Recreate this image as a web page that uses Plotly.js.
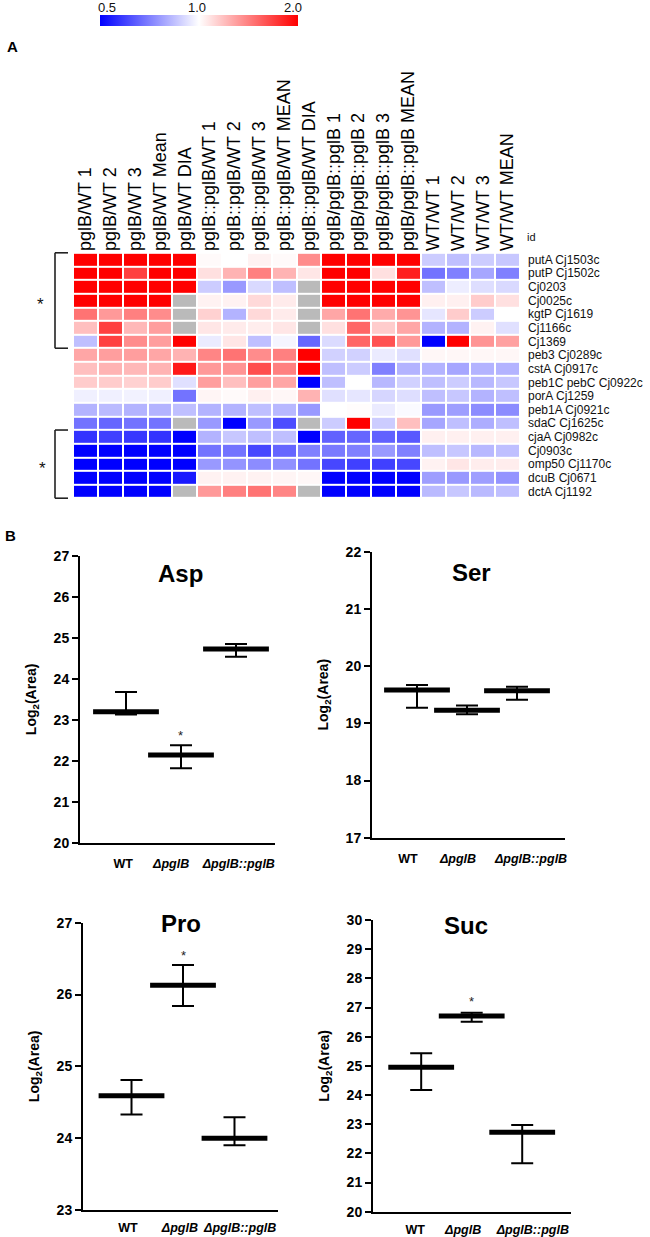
<!DOCTYPE html>
<html>
<head>
<meta charset="utf-8">
<script src="https://cdn.plot.ly/plotly-3.0.1.min.js"></script>
<style>html,body{margin:0;padding:0;background:#fff;}#chart{width:650px;height:1237px;}</style>
</head>
<body>
<div id="chart"></div>
<script>
// ---------- Heatmap data (panel A) ----------
const heatColumns = [
  'pglB/WT 1','pglB/WT 2','pglB/WT 3','pglB/WT Mean','pglB/WT DIA',
  'pglB::pglB/WT 1','pglB::pglB/WT 2','pglB::pglB/WT 3','pglB::pglB/WT MEAN','pglB::pglB/WT DIA',
  'pglB/pglB::pglB 1','pglB/pglB::pglB 2','pglB/pglB::pglB 3','pglB/pglB::pglB MEAN',
  'WT/WT 1','WT/WT 2','WT/WT 3','WT/WT MEAN'
];
const heatRows = [
  'putA Cj1503c','putP Cj1502c','Cj0203','Cj0025c','kgtP Cj1619','Cj1166c','Cj1369',
  'peb3 Cj0289c','cstA Cj0917c','peb1C pebC Cj0922c','porA Cj1259','peb1A Cj0921c','sdaC Cj1625c',
  'cjaA Cj0982c','Cj0903c','omp50 Cj1170c','dcuB Cj0671','dctA Cj1192'
];
// log2 fold change (colour scale 0.5 .. 1.0 .. 2.0 => -1 .. 0 .. 1); null = not detected (grey)
const log2Fold = [
  [1,1,1,1,1, 0.02,0.0,0.05,0.02, 0.45, 1,1,1,1, -0.2,-0.25,-0.2,-0.22],
  [1,1,0.75,1,1, 0.12,0.3,0.5,0.3, 0.1, 1,1,0.12,0.88, -0.55,-0.5,-0.35,-0.5],
  [1,1,1,1,1, -0.2,-0.4,-0.15,-0.25, null, 1,1,1,1, -0.25,-0.07,-0.13,-0.15],
  [1,1,1,1,null, 0.05,0.05,0.15,0.08, null, 1,1,1,1, 0.06,0.06,0.2,0.12],
  [0.55,0.4,0.5,0.45,null, 0.18,-0.3,0.15,0.08, null, 0.35,0.55,0.33,0.42, -0.1,0.2,-0.2,0.0],
  [0.25,0.75,0.28,0.38,null, 0.1,0.08,0.07,0.1, null, 0.12,0.6,0.2,0.35, -0.3,-0.3,0.05,-0.12],
  [-0.25,0.75,0.45,0.38,1, -0.08,0.1,-0.25,-0.04, -0.6, -0.14,0.6,0.68,0.4, -1,1,0.42,0.37],
  [0.35,0.38,0.38,0.35,0.3, 0.48,0.55,0.45,0.5, 1, -0.18,-0.18,-0.08,-0.12, 0.03,0.03,0.03,0.03],
  [0.25,0.3,0.28,0.3,0.9, 0.4,0.42,0.7,0.5, 1, -0.25,-0.2,-0.5,-0.3, -0.3,-0.35,-0.3,-0.3],
  [0.2,0.2,0.18,0.2,-0.12, 0.38,0.25,0.38,0.35, -1, -0.25,0,-0.28,-0.18, -0.25,-0.2,-0.28,-0.22],
  [-0.06,-0.06,-0.05,-0.06,-0.55, 0.04,0.02,0.06,0.03, 0.3, -0.12,-0.1,-0.16,-0.13, -0.25,-0.22,-0.3,-0.25],
  [-0.3,-0.27,-0.3,-0.3,-0.25, -0.3,-0.3,-0.25,-0.28, -0.4, 0,0.01,-0.08,-0.02, -0.4,-0.38,-0.45,-0.45],
  [-0.55,-0.6,-0.55,-0.55,null, -0.4,-1,-0.4,-0.7, null, -0.2,1,-0.2,0.25, -0.35,-0.25,-0.32,-0.25],
  [-0.8,-0.75,-0.78,-0.8,-1, -0.3,-0.22,-0.25,-0.25, -1, -0.62,-0.6,-0.62,-0.65, 0.06,0.06,0.06,0.06],
  [-1,-1,-1,-1,-1, -0.55,-0.55,-0.72,-0.6, -0.5, -0.52,-0.5,-0.4,-0.5, -0.25,-0.22,-0.28,-0.25],
  [-1,-1,-1,-1,-1, -0.4,-0.42,-0.45,-0.43, -0.55, -0.72,-0.75,-0.75,-0.72, 0.05,0.1,0.07,0.07],
  [-1,-1,-1,-1,-0.9, 0.05,0.05,0.05,0.04, 0.03, -1,-1,-1,-1, -0.38,-0.4,-0.38,-0.42],
  [-1,-1,-1,-1,null, 0.4,0.5,0.55,0.48, null, -1,-1,-1,-1, -0.27,-0.22,-0.27,-0.25]
];
const colorTickVals = [-1, 0, 1];
const colorTickText = ['0.5', '1.0', '2.0'];

// ---------- Metabolite data (panel B) ----------
const groups = ['WT', 'ΔpglB', 'ΔpglB::pglB'];
const groupLabels = ['<b>WT</b>', '<b><i>ΔpglB</i></b>', '<b><i>ΔpglB::pglB</i></b>'];
const aspMean = [23.20, 22.14, 24.73], aspHigh = [23.68, 22.38, 24.85], aspLow = [23.13, 21.82, 24.54];
const serMean = [19.58, 19.23, 19.57], serHigh = [19.67, 19.31, 19.64], serLow = [19.27, 19.16, 19.41];
const proMean = [24.59, 26.13, 24.00], proHigh = [24.81, 26.41, 24.29], proLow = [24.33, 25.84, 23.90];
const sucMean = [24.95, 26.71, 22.72], sucHigh = [25.43, 26.82, 22.97], sucLow = [24.17, 26.51, 21.66];

// ---------- Layout helpers ----------
const W = 650, H = 1237;
const FONT = 'Liberation Sans, Arial, Helvetica, sans-serif';
const fx = x => x / W;
const fy = y => 1 - y / H;
const groupIndex = groups.map((g, i) => i);

const missingMask = log2Fold.map(r => r.map(v => v === null ? 1 : null));

const traces = [];
traces.push({
  type: 'heatmap', x: heatColumns, y: heatRows, z: missingMask,
  colorscale: [[0, '#bababa'], [1, '#bababa']], showscale: false,
  xgap: 2, ygap: 2, hoverinfo: 'skip', xaxis: 'x', yaxis: 'y'
});
traces.push({
  type: 'heatmap', x: heatColumns, y: heatRows, z: log2Fold,
  zmin: -1, zmax: 1, zauto: false,
  colorscale: [[0, 'rgb(0,0,255)'], [0.5, 'rgb(255,255,255)'], [1, 'rgb(255,0,0)']],
  xgap: 2, ygap: 2, xaxis: 'x', yaxis: 'y',
  colorbar: {
    orientation: 'h', x: fx(199), xanchor: 'center', y: fy(15), yanchor: 'top',
    len: 198 / W, lenmode: 'fraction', thickness: 11, thicknessmode: 'pixels',
    xpad: 0, ypad: 0, outlinewidth: 0, ticks: '', showticklabels: false,
    tickmode: 'array', tickvals: colorTickVals, ticktext: colorTickText
  }
});

const metabolites = [
  {name: 'Asp', mean: aspMean, hi: aspHigh, lo: aspLow, ax: '2'},
  {name: 'Ser', mean: serMean, hi: serHigh, lo: serLow, ax: '3'},
  {name: 'Pro', mean: proMean, hi: proHigh, lo: proLow, ax: '4'},
  {name: 'Suc', mean: sucMean, hi: sucHigh, lo: sucLow, ax: '5'}
];
metabolites.forEach(m => {
  traces.push({
    type: 'scatter', mode: 'markers', name: m.name,
    x: groupIndex, y: m.mean, text: groups, xaxis: 'x' + m.ax, yaxis: 'y' + m.ax,
    marker: {symbol: 'line-ew', size: 47, color: 'black', line: {width: 5, color: 'black'}},
    error_y: {
      type: 'data', symmetric: false,
      array: m.hi.map((h, i) => h - m.mean[i]),
      arrayminus: m.lo.map((l, i) => m.mean[i] - l),
      color: 'black', thickness: 2, width: 11
    },
    cliponaxis: false
  });
});

function yAxisCfg(dom, range, xa) {
  return {
    domain: dom, anchor: xa, range: range, tick0: range[0], dtick: 1,
    showline: true, linewidth: 2, linecolor: 'black', ticks: 'outside', ticklen: 6, tickwidth: 2, tickcolor: 'black',
    tickfont: {family: FONT, size: 14, color: 'black', weight: 'bold'},
    showgrid: false, zeroline: false, fixedrange: true,
    title: {text: 'Log<sub>2</sub>(Area)', font: {family: FONT, size: 14, color: 'black', weight: 'bold'}, standoff: 14}
  };
}
// label positions (in group units) as placed in the original figure
function xAxisCfg(dom, range, ya, labelPos, standoff) {
  return {
    domain: dom, anchor: ya, type: 'linear', range: range,
    showline: true, linewidth: 2, linecolor: 'black', ticks: '',
    tickmode: 'array', tickvals: labelPos, ticktext: groupLabels, tickangle: 0,
    tickfont: {family: FONT, size: 12.5, color: 'black'},
    ticklabelstandoff: standoff, showgrid: false, zeroline: false, fixedrange: true
  };
}

const layout = {
  width: W, height: H, margin: {l: 0, r: 0, t: 0, b: 0},
  paper_bgcolor: 'white', plot_bgcolor: 'white', showlegend: false,
  font: {family: FONT, color: 'black'},
  xaxis: {
    domain: [fx(73), fx(520)], anchor: 'y', side: 'top', type: 'category',
    tickmode: 'array', tickvals: heatColumns, ticktext: heatColumns,
    tickangle: -90, tickfont: {family: FONT, size: 18, color: 'black'}, ticks: '',
    ticklabelstandoff: 0, showgrid: false, zeroline: false, showline: false, fixedrange: true
  },
  yaxis: {
    domain: [fy(499), fy(252)], anchor: 'x', side: 'right', type: 'category', autorange: 'reversed',
    tickmode: 'array', tickvals: heatRows, ticktext: heatRows,
    tickfont: {family: FONT, size: 12, color: '#111'}, ticks: '', ticklabelstandoff: 7,
    showgrid: false, zeroline: false, showline: false, fixedrange: true
  },
  xaxis2: xAxisCfg([fx(80), fx(275)], [-0.836, 2.709], 'y2', [-0.05, 0.82, 2.05], 8),
  yaxis2: yAxisCfg([fy(842.7), fy(556)], [20, 27], 'x2'),
  xaxis3: xAxisCfg([fx(372), fx(565)], [-0.9, 2.96], 'y3', [-0.18, 0.82, 2.28], 8),
  yaxis3: yAxisCfg([fy(837.7), fy(551.7)], [17, 22], 'x3'),
  xaxis4: xAxisCfg([fx(83), fx(278)], [-0.942, 2.845], 'y4', [-0.07, 0.94, 2.11], 5),
  yaxis4: yAxisCfg([fy(1210), fy(922.7)], [23, 27], 'x4'),
  xaxis5: xAxisCfg([fx(373), fx(571)], [-0.954, 2.966], 'y5', [-0.12, 0.83, 2.21], 5),
  yaxis5: yAxisCfg([fy(1211.7), fy(920)], [20, 30], 'x5'),
  shapes: [],
  annotations: []
};

// colour bar labels
const cbLabelX = [107, 197, 293];
colorTickText.forEach((t, i) => layout.annotations.push({
  xref: 'paper', yref: 'paper', x: fx(cbLabelX[i]), y: fy(7), text: t, showarrow: false,
  xanchor: 'center', yanchor: 'middle', font: {family: FONT, size: 13, color: '#111'}
}));
// row header
layout.annotations.push({xref: 'paper', yref: 'paper', x: fx(525), y: fy(237), text: 'id', showarrow: false,
  xanchor: 'left', yanchor: 'middle', font: {family: FONT, size: 11, color: '#111'}});
// panel letters
layout.annotations.push({xref: 'paper', yref: 'paper', x: fx(12), y: fy(46), text: '<b>A</b>', showarrow: false,
  xanchor: 'center', yanchor: 'middle', font: {family: FONT, size: 15, color: 'black'}});
layout.annotations.push({xref: 'paper', yref: 'paper', x: fx(10), y: fy(535), text: '<b>B</b>', showarrow: false,
  xanchor: 'center', yanchor: 'middle', font: {family: FONT, size: 15, color: 'black'}});

// significance brackets on the heatmap (row-index coordinates)
const brackets = [{from: 0, to: 6, starX: 40}, {from: 13, to: 17, starX: 42}];
brackets.forEach(b => {
  const y0 = b.from - 0.5, y1 = b.to + 0.5;
  const line = {color: '#222', width: 1.6};
  layout.shapes.push({type: 'line', xref: 'paper', yref: 'y', x0: fx(55), x1: fx(55), y0: y0, y1: y1, line: line});
  layout.shapes.push({type: 'line', xref: 'paper', yref: 'y', x0: fx(55), x1: fx(68), y0: y0, y1: y0, line: line});
  layout.shapes.push({type: 'line', xref: 'paper', yref: 'y', x0: fx(55), x1: fx(68), y0: y1, y1: y1, line: line});
  layout.annotations.push({xref: 'paper', yref: 'y', x: fx(b.starX), y: (b.from + b.to) / 2 + 0.3, text: '*',
    showarrow: false, xanchor: 'center', yanchor: 'middle', font: {family: FONT, size: 17, color: '#111'}});
});

// metabolite titles
const titlePos = [[180, 573], [471, 572], [181, 923], [466, 925]];
metabolites.forEach((m, i) => layout.annotations.push({
  xref: 'paper', yref: 'paper', x: fx(titlePos[i][0]), y: fy(titlePos[i][1]), text: '<b>' + m.name + '</b>',
  showarrow: false, xanchor: 'center', yanchor: 'middle', font: {family: FONT, size: 24, color: 'black'}
}));
// significance stars above ΔpglB
const starValues = {'2': 22.61, '4': 26.54, '5': 27.19};
Object.keys(starValues).forEach(ax => layout.annotations.push({
  xref: 'x' + ax, yref: 'y' + ax, x: 1, y: starValues[ax], text: '*', showarrow: false,
  xanchor: 'center', yanchor: 'middle', font: {family: FONT, size: 13, color: '#222'}
}));

Plotly.newPlot('chart', traces, layout, {staticPlot: true, displayModeBar: false});
</script>
</body>
</html>
